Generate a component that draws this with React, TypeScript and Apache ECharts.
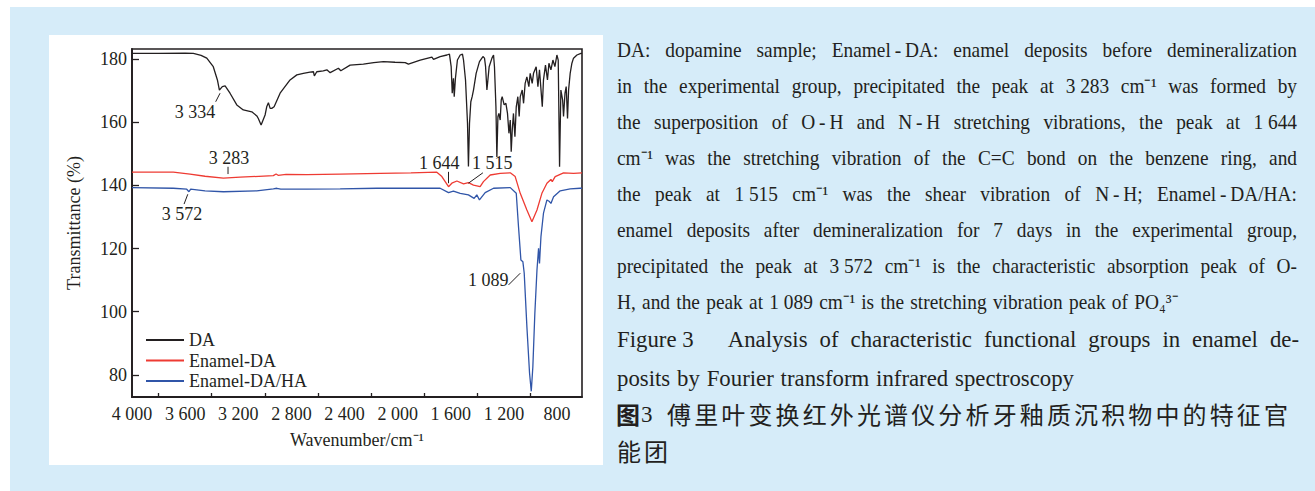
import React, { useEffect, useRef } from 'react';
import * as echarts from 'echarts';

// ---------- data ----------
const seriesNames = ['DA', 'Enamel-DA', 'Enamel-DA/HA'];

const daSpectrum: [number, number][] = [
  [4000, 181.8], [3800, 181.8], [3600, 181.9], [3538, 181.8], [3480, 181.2], [3437, 180.3], [3388, 177.6],
  [3357, 173.4], [3342, 170.2], [3320, 171.3], [3299, 171.5], [3262, 169.2], [3211, 165.5], [3162, 163.9],
  [3098, 163.3], [3060, 162.0], [3049, 161.2], [3028, 159.1], [2998, 162.3], [2985, 165.0], [2973, 166.2],
  [2960, 164.4], [2948, 164.4], [2930, 164.9], [2885, 169.2], [2810, 173.4], [2759, 175.0], [2710, 175.5],
  [2660, 175.9], [2634, 176.0], [2627, 174.7], [2609, 176.0], [2560, 176.3], [2533, 176.6], [2508, 175.7],
  [2446, 177.1], [2428, 176.3], [2358, 178.1], [2258, 178.4], [2180, 178.9], [2107, 179.2], [2020, 179.0],
  [1943, 178.9], [1919, 178.4], [1830, 179.7], [1742, 180.6], [1730, 179.9], [1680, 180.8], [1629, 181.3],
  [1610, 181.6], [1597, 177.6], [1589, 169.2], [1580, 173.9], [1574, 168.1], [1565, 173.9], [1550, 179.7],
  [1529, 181.3], [1512, 181.6], [1504, 179.7], [1489, 173.4], [1474, 159.7], [1467, 146.0], [1459, 159.7],
  [1449, 166.5], [1439, 168.1], [1429, 170.2], [1409, 175.5], [1384, 179.2], [1358, 180.8], [1346, 180.3],
  [1338, 177.6], [1328, 170.2], [1323, 172.3], [1311, 177.6], [1290, 180.3], [1278, 181.3], [1271, 177.6],
  [1260, 164.9], [1253, 149.0], [1245, 161.8], [1238, 162.8], [1228, 160.7], [1220, 167.1], [1213, 168.1],
  [1198, 165.5], [1185, 166.0], [1173, 162.8], [1162, 156.5], [1152, 160.7], [1145, 150.7], [1137, 157.6],
  [1128, 162.8], [1117, 155.4], [1107, 164.9], [1095, 168.1], [1085, 161.8], [1077, 168.1], [1062, 170.2],
  [1052, 166.0], [1040, 172.3], [1027, 174.4], [1012, 171.3], [1002, 175.5], [987, 172.3], [977, 175.5],
  [957, 177.6], [944, 171.3], [932, 176.6], [911, 164.9], [902, 173.4], [887, 178.1], [872, 173.4],
  [861, 178.7], [846, 176.6], [831, 179.7], [816, 177.6], [801, 181.3], [791, 179.7], [781, 145.9],
  [771, 170.2], [758, 167.1], [751, 161.8], [740, 169.2], [731, 171.3], [721, 161.2], [713, 170.2],
  [701, 175.5], [688, 178.7], [676, 180.3], [650, 181.3], [620, 181.8], [612, 181.8],
];

const enamelDA: [number, number][] = [
  [4000, 144.2], [3689, 144.2], [3563, 143.6], [3450, 142.9], [3312, 142.3], [3186, 142.6], [2936, 143.1],
  [2915, 143.6], [2900, 143.2], [2840, 143.5], [2684, 143.4], [2433, 143.6], [2132, 143.8], [1900, 144.0],
  [1705, 144.2], [1667, 142.8], [1617, 139.6], [1592, 140.7], [1554, 141.4], [1504, 140.5], [1467, 140.9],
  [1429, 140.1], [1379, 139.6], [1354, 141.2], [1303, 143.3], [1228, 143.8], [1152, 144.0], [1115, 142.8],
  [1077, 137.5], [1027, 132.2], [989, 128.5], [951, 132.2], [914, 137.5], [876, 140.7], [846, 141.9],
  [836, 141.2], [814, 142.8], [751, 144.0], [676, 143.8], [612, 144.0],
];

const enamelDAHA: [number, number][] = [
  [4000, 139.3], [3689, 139.1], [3588, 138.8], [3571, 138.0], [3558, 138.8], [3450, 138.3], [3312, 138.0],
  [3061, 138.3], [2936, 138.9], [2910, 139.1], [2880, 138.8], [2684, 138.8], [2433, 138.9], [2157, 139.1],
  [1900, 139.1], [1680, 139.1], [1617, 137.7], [1580, 138.2], [1529, 137.5], [1467, 137.0], [1424, 135.9],
  [1404, 137.0], [1384, 135.4], [1341, 137.7], [1278, 139.1], [1152, 139.3], [1107, 137.5], [1090, 126.9],
  [1072, 116.4], [1057, 115.8], [1047, 112.2], [1027, 95.3], [1007, 80.6], [994, 74.8], [982, 82.6],
  [967, 99.5], [951, 113.2], [939, 120.1], [932, 115.3], [921, 123.8], [902, 131.2], [876, 135.4],
  [857, 134.9], [846, 134.3], [826, 136.4], [776, 138.3], [701, 138.9], [626, 139.1], [612, 139.1],
];

const xTickLabels = [4000, 3600, 3200, 2800, 2400, 2000, 1600, 1200, 800];
const xTickMarks = [3800, 3400, 3000, 2600, 2200, 1800, 1400, 1000];
const yTickLabels = [80, 100, 120, 140, 160, 180];

// peak annotations in data coordinates: label anchor + leader line ends
const peakNotes = [
  { label: '3 334', at: [3525, 163.4], lead: [[3370, 166.5], [3337, 169.2]] },
  { label: '3 283', at: [3269, 148.7], lead: [[3277, 145.9], [3277, 143.6]] },
  { label: '3 572', at: [3623, 131.0], lead: [[3608, 134.1], [3580, 137.2]] },
  { label: '1 644', at: [1687, 147.1], lead: [[1617, 144.3], [1617, 140.7]] },
  { label: '1 515', at: [1288, 147.1], lead: [[1358, 144.0], [1467, 140.7]] },
  { label: '1 089', at: [1318, 110.1], lead: [[1165, 108.5], [1077, 112.2]] },
];

const noteLines = [
  'DA: dopamine sample; Enamel\u2009-\u2009DA: enamel deposits before demineralization',
  'in the experimental group, precipitated the peak at 3\u00a0283 cm\u207b\u00b9 was formed by',
  'the superposition of O\u2009-\u2009H and N\u2009-\u2009H stretching vibrations, the peak at 1\u00a0644',
  'cm\u207b\u00b9 was the stretching vibration of the C=C bond on the benzene ring, and',
  'the peak at 1\u00a0515 cm\u207b\u00b9 was the shear vibration of N\u2009-\u2009H; Enamel\u2009-\u2009DA/HA:',
  'enamel deposits after demineralization for 7 days in the experimental group,',
  'precipitated the peak at 3\u00a0572 cm\u207b\u00b9 is the characteristic absorption peak of O-',
  'H, and the peak at 1\u00a0089 cm\u207b\u00b9 is the stretching vibration peak of PO\u2084\u00b3\u207b',
];
const titleLines = [
  'Figure\u00a03\u2003\u2002Analysis of characteristic functional groups in enamel de-',
  'posits by Fourier transform infrared spectroscopy',
];
const cnTitleHead = '图';
const cnTitleNum = '3';
const cnTitleLine1 = '傅里叶变换红外光谱仪分析牙釉质沉积物中的特征官';
const cnTitleLine2 = '能团';

const fmtWn = (v: number) =>
  v >= 1000 ? `${Math.floor(v / 1000)} ${String(v % 1000).padStart(3, '0')}` : String(v);

export default function App() {
  const ref = useRef<HTMLDivElement>(null);

  useEffect(() => {
    const chart = echarts.init(ref.current!, null, { renderer: 'svg' });
    const ink = '#231f20';
    const serif = '"Liberation Serif", "Times New Roman", serif';
    const cjk = '"Noto Sans CJK SC", sans-serif';
    const colors = ['#231f20', '#ee3b33', '#3055a8'];

    chart.setOption({
      animation: false,
      backgroundColor: '#ffffff',
      grid: {
        left: 132, top: 49, right: 733, bottom: 94,
        show: true, borderColor: ink, borderWidth: 1.6, backgroundColor: 'transparent',
      },
      legend: {
        data: seriesNames,
        orient: 'vertical',
        left: 141,
        top: 325,
        itemWidth: 38,
        itemHeight: 2,
        itemGap: 0.5,
        icon: 'rect',
        textStyle: { fontFamily: serif, fontSize: 18, color: ink, lineHeight: 20 },
      },
      xAxis: {
        type: 'value',
        inverse: true,
        min: 612,
        max: 4000,
        name: 'Wavenumber/cm\u207b\u00b9',
        nameLocation: 'middle',
        nameGap: 34,
        nameTextStyle: { fontFamily: serif, fontSize: 18, color: ink },
        axisLine: { show: true, lineStyle: { color: ink, width: 1.8 } },
        axisTick: { show: true, inside: true, length: 4, customValues: xTickMarks, lineStyle: { color: ink, width: 1.3 } },
        axisLabel: {
          customValues: xTickLabels, formatter: (v: number) => fmtWn(v),
          fontFamily: serif, fontSize: 18, color: ink, margin: 8,
        },
        splitLine: { show: false },
      },
      yAxis: {
        type: 'value',
        min: 73,
        max: 183.2,
        name: 'Transmittance (%)',
        nameLocation: 'middle',
        nameGap: 49,
        nameTextStyle: { fontFamily: serif, fontSize: 18, color: ink },
        axisLine: { show: true, lineStyle: { color: ink, width: 1.8 } },
        axisTick: { show: true, inside: true, length: 7, customValues: yTickLabels, lineStyle: { color: ink, width: 1.3 } },
        axisLabel: { customValues: yTickLabels, fontFamily: serif, fontSize: 18, color: ink, margin: 5 },
        splitLine: { show: false },
      },
      series: [daSpectrum, enamelDA, enamelDAHA].map((d, i) => ({
        name: seriesNames[i],
        type: 'line',
        data: d,
        symbol: 'none',
        showSymbol: false,
        color: colors[i],
        lineStyle: { color: colors[i], width: 1.3 },
        z: 3 - i,
      })),
    });

    // ---- graphics: backgrounds, caption text, peak annotations ----
    const canvas = document.createElement('canvas');
    const ctx = canvas.getContext('2d')!;
    const measure = (t: string, font: string) => {
      ctx.font = font;
      return ctx.measureText(t).width;
    };

    const els: any[] = [];
    els.push({ type: 'rect', z: -20, silent: true, shape: { x: 10, y: 7, width: 1305, height: 484 }, style: { fill: '#d6ecf9' } });
    els.push({ type: 'rect', z: -19, silent: true, shape: { x: 49, y: 35, width: 554, height: 430 }, style: { fill: '#ffffff' } });

    const textEl = (t: string, x: number, y: number, font: string, sx = 1) => ({
      type: 'text', x, y, scaleX: sx, silent: true,
      style: {
        text: t, font, fill: ink,
        align: 'left', textAlign: 'left', verticalAlign: 'middle', textVerticalAlign: 'middle',
      },
    });

    const placeLine = (
      tokens: string[], x0: number, x1: number, y: number, font: string,
      justify: boolean, sep: number, sx = 1,
    ) => {
      const ws = tokens.map((t) => measure(t, font) * sx);
      const sum = ws.reduce((a, b) => a + b, 0);
      const gap = justify && tokens.length > 1 ? (x1 - x0 - sum) / (tokens.length - 1) : sep;
      let x = x0;
      tokens.forEach((t, i) => {
        els.push(textEl(t, x, y, font, sx));
        x += ws[i] + gap;
      });
    };

    const noteFont = `21.5px ${serif}`;
    const noteScale = 0.9;
    const noteY = [50, 86, 122, 158, 194, 230, 266, 302];
    const spaceW = measure(' ', noteFont) * noteScale;
    noteLines.forEach((line, i) => {
      placeLine(line.split(' '), 617, 1297, noteY[i], noteFont, i < noteLines.length - 1, spaceW * 1.3, noteScale);
    });
    const titleFont = `23.5px ${serif}`;
    const titleScale = 0.97;
    const titleSpace = measure(' ', titleFont) * titleScale;
    placeLine(titleLines[0].split(' '), 617, 1299, 339, titleFont, true, titleSpace, titleScale);
    placeLine(titleLines[1].split(' '), 617, 1299, 378, titleFont, false, titleSpace * 1.2, titleScale);

    const cnFont = `24px ${cjk}`;
    els.push(textEl(cnTitleHead, 616, 413, `bold 24px ${cjk}`));
    els.push(textEl(cnTitleNum, 641, 414, `23px ${serif}`));
    placeLine(cnTitleLine1.split(''), 667, 1288, 413, cnFont, true, 0);
    placeLine(cnTitleLine2.split(''), 617, 700, 450, cnFont, false, 3);

    const toPx = (p: number[]) => chart.convertToPixel({ gridIndex: 0 }, p) as number[];
    peakNotes.forEach((n) => {
      const a = toPx(n.at);
      const p1 = toPx(n.lead[0]);
      const p2 = toPx(n.lead[1]);
      els.push({
        type: 'line', silent: true, z: 10,
        shape: { x1: p1[0], y1: p1[1], x2: p2[0], y2: p2[1] },
        style: { stroke: ink, lineWidth: 1 },
      });
      els.push({
        type: 'text', x: a[0], y: a[1], silent: true, z: 10,
        style: {
          text: n.label, font: `18px ${serif}`, fill: ink,
          align: 'center', textAlign: 'center', verticalAlign: 'middle', textVerticalAlign: 'middle',
        },
      });
    });

    chart.setOption({ graphic: { elements: els } });

    return () => chart.dispose();
  }, []);

  return <div ref={ref} style={{ position: 'absolute', left: 0, top: 0, width: 1315, height: 491 }} />;
}
